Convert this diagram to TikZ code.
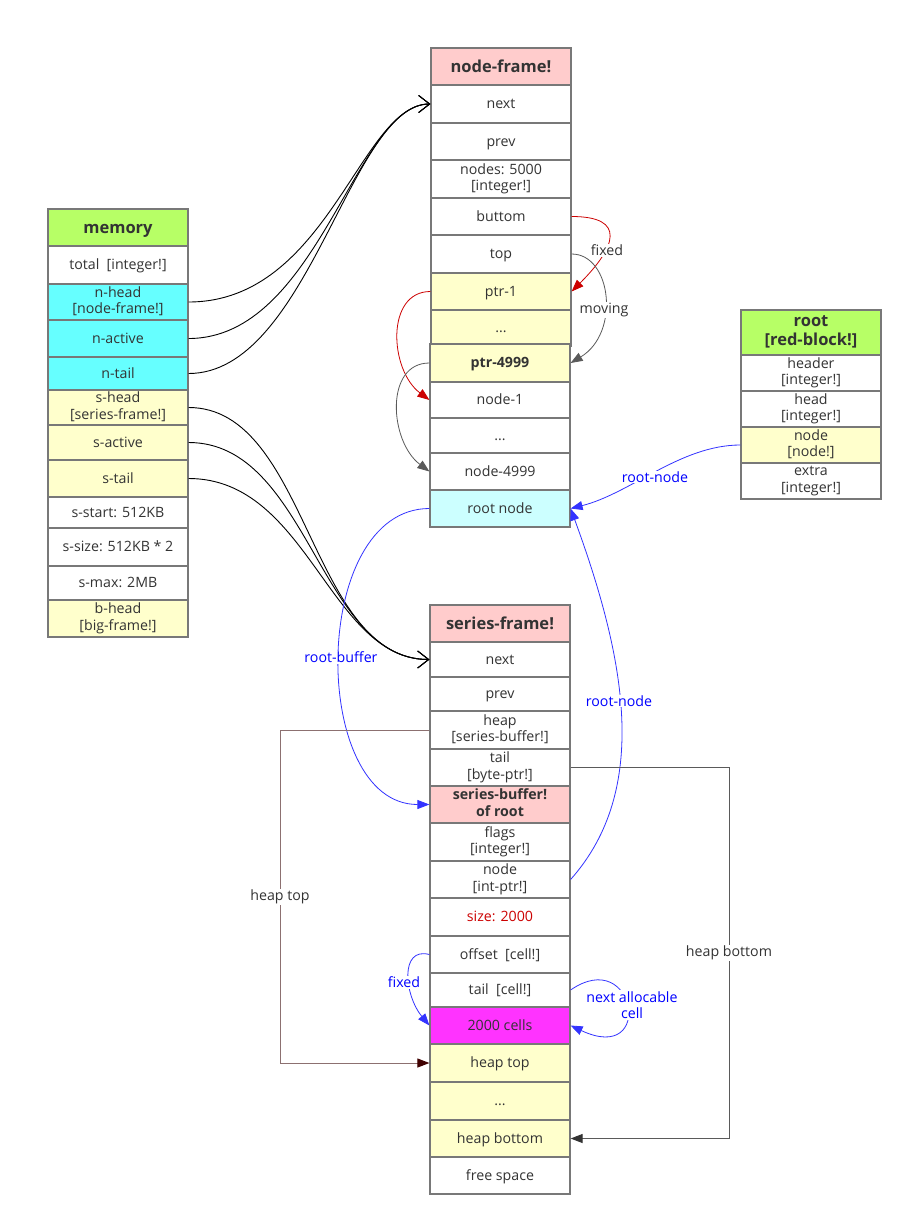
\documentclass[tikz,border=0pt]{standalone}
\usepackage{fontspec}
\setmainfont{Open Sans}
\usetikzlibrary{arrows.meta}
\definecolor{lime}{RGB}{183,255,102}
\definecolor{cyanc}{RGB}{102,255,255}
\definecolor{lyel}{RGB}{255,255,204}
\definecolor{lpink}{RGB}{255,204,204}
\definecolor{lcyan}{RGB}{204,255,255}
\definecolor{magc}{RGB}{255,51,255}
\definecolor{bord}{RGB}{120,120,120}
\definecolor{txt}{RGB}{51,51,51}
\definecolor{redc}{RGB}{204,0,0}
\definecolor{bluec}{RGB}{51,51,255}
\definecolor{bluet}{RGB}{0,0,255}
\definecolor{heapc}{RGB}{140,112,112}
\definecolor{heapa}{RGB}{64,0,0}
\definecolor{grayc}{RGB}{90,90,90}
\begin{document}
\begin{tikzpicture}[x=1pt,y=-1pt,
  cell/.style={draw=bord, line width=1.2pt, minimum width=140pt, inner sep=0pt, align=center,
    font=\fontsize{14.2}{16.5}\selectfont, text=txt,
    execute at begin node={\vphantom{Ág}}, execute at end node={\vphantom{Ág}}},
  hdr/.style={cell, font=\fontsize{16.5}{19}\selectfont\bfseries},
  lbl/.style={fill=white, inner sep=1pt, align=center, font=\fontsize{14.2}{16.5}\selectfont},
  opn/.style={-{Straight Barb[length=11pt,width=17pt]}, line width=0.9pt, draw=black},
  tri/.style={-{Triangle[length=12pt,width=9pt]}, line width=0.8pt}
]
\useasboundingbox[fill=white] (0,0) rectangle (913,1226);

% memory table
\node[hdr, fill=lime, minimum height=37pt] (mem) at (118,227.5) {memory};
\node[cell, fill=white, minimum height=38pt] (total) at (118,265) {total~~[integer!]};
\node[cell, fill=cyanc, minimum height=36pt] (nhead) at (118,302) {n-head\\{}[node-frame!]};
\node[cell, fill=cyanc, minimum height=37pt] (nactive) at (118,338.5) {n-active};
\node[cell, fill=cyanc, minimum height=33pt] (ntail) at (118,373.5) {n-tail};
\node[cell, fill=lyel, minimum height=35pt] (shead) at (118,407.5) {s-head\\{}[series-frame!]};
\node[cell, fill=lyel, minimum height=35pt] (sactive) at (118,442.5) {s-active};
\node[cell, fill=lyel, minimum height=37pt] (stail) at (118,478.5) {s-tail};
\node[cell, fill=white, minimum height=31pt] (sstart) at (118,512.5) {s-start: 512KB};
\node[cell, fill=white, minimum height=38pt] (ssize) at (118,547) {s-size: 512KB * 2};
\node[cell, fill=white, minimum height=34pt] (smax) at (118,583) {s-max: 2MB};
\node[cell, fill=lyel, minimum height=37pt] (bhead) at (118,618.5) {b-head\\{}[big-frame!]};

% node-frame
\node[hdr, fill=lpink, minimum height=37pt] (nf) at (501,66.5) {node-frame!};
\node[cell, fill=white, minimum height=38pt] (nnext) at (501,104) {next};
\node[cell, fill=white, minimum height=37pt] (nprev) at (501,141.5) {prev};
\node[cell, fill=white, minimum height=38pt] (nnodes) at (501,179) {nodes: 5000\\{}[integer!]};
\node[cell, fill=white, minimum height=37pt] (nbuttom) at (501,216.5) {buttom};
\node[cell, fill=white, minimum height=38pt] (ntop) at (501,254) {top};
\node[cell, fill=lyel, minimum height=37pt] (ptr1) at (501,291.5) {ptr-1};
\node[cell, fill=lyel, minimum height=36pt] (pdots) at (501,328) {...};
\node[cell, fill=lyel, minimum height=38pt, font=\fontsize{14.2}{16.5}\selectfont\bfseries] (ptrl) at (500,363) {ptr-4999};
\node[cell, fill=white, minimum height=36pt] (node1) at (500,400) {node-1};
\node[cell, fill=white, minimum height=35pt] (ndots) at (500,435.5) {...};
\node[cell, fill=white, minimum height=37pt] (nodel) at (500,471.5) {node-4999};
\node[cell, fill=lcyan, minimum height=37pt] (rootnode) at (500,508.5) {root node};

% root block
\node[hdr, fill=lime, minimum height=45pt] (root) at (811,332.5) {root\\{}[red-block!]};
\node[cell, fill=white, minimum height=36pt] (rheader) at (811,373) {header\\{}[integer!]};
\node[cell, fill=white, minimum height=36pt] (rhead) at (811,409) {head\\{}[integer!]};
\node[cell, fill=lyel, minimum height=36pt] (rnode) at (811,445) {node\\{}[node!]};
\node[cell, fill=white, minimum height=36pt] (rextra) at (811,481) {extra\\{}[integer!]};

% series-frame
\node[hdr, fill=lpink, minimum height=37pt] (sf) at (500,623.5) {series-frame!};
\node[cell, fill=white, minimum height=35pt] (snext) at (500,659.5) {next};
\node[cell, fill=white, minimum height=34pt] (sprev) at (500,694) {prev};
\node[cell, fill=white, minimum height=38pt] (sheap) at (500,730) {heap\\{}[series-buffer!]};
\node[cell, fill=white, minimum height=37pt] (stailb) at (500,767.5) {tail\\{}[byte-ptr!]};
\node[cell, fill=lpink, minimum height=37pt, font=\fontsize{14.2}{16.5}\selectfont\bfseries] (sbuf) at (500,804.5) {series-buffer!\\of root};
\node[cell, fill=white, minimum height=38pt] (sflags) at (500,842) {flags\\{}[integer!]};
\node[cell, fill=white, minimum height=37pt] (snode) at (500,879.5) {node\\{}[int-ptr!]};
\node[cell, fill=white, minimum height=38pt, text=redc] (ssz) at (500,917) {size: 2000};
\node[cell, fill=white, minimum height=37pt] (soff) at (500,954.5) {offset~~[cell!]};
\node[cell, fill=white, minimum height=34pt] (stailc) at (500,990) {tail~~[cell!]};
\node[cell, fill=magc, minimum height=37pt] (scells) at (500,1025.5) {2000 cells};
\node[cell, fill=lyel, minimum height=38pt] (shtop) at (500,1063) {heap top};
\node[cell, fill=lyel, minimum height=38pt] (sdots) at (500,1101) {...};
\node[cell, fill=lyel, minimum height=37pt] (shbot) at (500,1138.5) {heap bottom};
\node[cell, fill=white, minimum height=37pt] (sfree) at (500,1175.5) {free space};

% memory -> node-frame
\draw[opn] (nhead.east) .. controls +(140,0) and +(-70,0) .. (nnext.west);
\draw[opn] (nactive.east) .. controls +(130,0) and +(-75,0) .. (nnext.west);
\draw[opn] (ntail.east) .. controls +(120,0) and +(-80,0) .. (nnext.west);
% memory -> series-frame
\draw[opn] (shead.east) .. controls +(120,0) and +(-120,0) .. (snext.west);
\draw[opn] (sactive.east) .. controls +(120,0) and +(-110,0) .. (snext.west);
\draw[opn] (stail.east) .. controls +(120,0) and +(-100,0) .. (snext.west);

% node-frame internal
\draw[tri, draw=redc] (nbuttom.east) .. controls +(55,0) and +(45,-45) .. (ptr1.east);
\draw[tri, draw=grayc] (ntop.east) .. controls +(40,0) and +(50,-30) .. (ptrl.east);
\draw[tri, draw=redc] (ptr1.west) .. controls +(-45,0) and +(-40,-30) .. (node1.west);
\draw[tri, draw=grayc] (ptrl.west) .. controls +(-45,0) and +(-40,-30) .. (nodel.west);

% blue links
\draw[tri, draw=bluec] (rnode.west) .. controls +(-60,0) and +(60,-15) .. (rootnode.east);
\draw[tri, draw=bluec] (snode.east) .. controls +(80,-90) and +(55,150) .. (rootnode.east);
\draw[tri, draw=bluec] (rootnode.west) .. controls +(-120,0) and +(-120,0) .. (sbuf.west);
\draw[tri, draw=bluec] (soff.west) .. controls +(-30,-8) and +(-25,-30) .. (scells.west);
\draw[tri, draw=bluec] (stailc.east) .. controls +(65,-45) and +(85,40) .. (scells.east);

% heap lines
\coordinate (htl) at (280,730);
\coordinate (hbr) at (729,767.5);
\draw[line width=1pt, draw=heapc, -{Triangle[length=12pt,width=9pt,color=heapa]}] (sheap.west) -- (htl) |- (shtop.west);
\draw[line width=1pt, draw=grayc, -{Triangle[length=12pt,width=9pt,color=txt]}] (stailb.east) -- (hbr) |- (shbot.east);

% labels
\node[lbl, text=txt] (lfixed) at (607,250) {fixed};
\node[lbl, text=txt] (lmoving) at (604,310) {moving};
\node[lbl, text=bluet] (lrn1) at (655,477) {root-node};
\node[lbl, text=bluet] (lrn2) at (619,701) {root-node};
\node[lbl, text=bluet] (lrb) at (341,657) {root-buffer};
\node[lbl, text=txt] (lht) at (280,897) {heap top};
\node[lbl, text=txt] (lhb) at (729,953) {heap bottom};
\node[lbl, text=bluet] (lfx2) at (404,982) {fixed};
\node[lbl, text=bluet] (lnac) at (632,1005) {next allocable\\cell};
\end{tikzpicture}
\end{document}
